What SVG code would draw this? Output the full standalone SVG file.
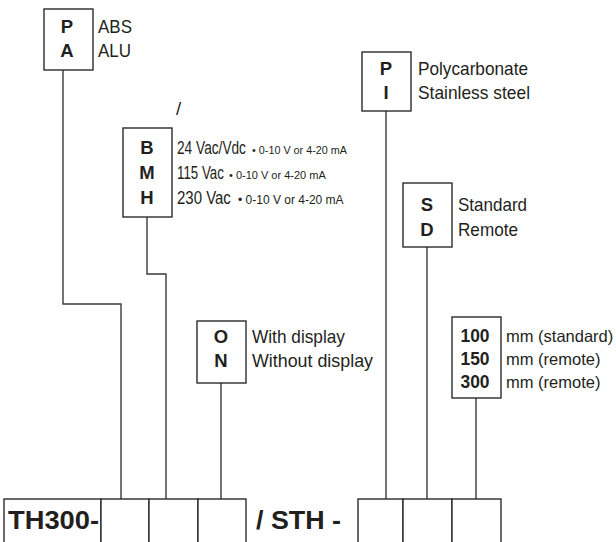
<svg xmlns="http://www.w3.org/2000/svg" width="616" height="542" viewBox="0 0 616 542">
<style>
.box{fill:#fff;stroke:#2b2b2b;stroke-width:1.4}
.ln{fill:none;stroke:#3a3a3a;stroke-width:1.4}
.t{font-family:"Liberation Sans",Arial,sans-serif;font-size:18.5px;fill:#231f20}
.m{font-family:"Liberation Sans",Arial,sans-serif;font-size:16.5px;fill:#231f20}
.b{font-family:"Liberation Sans",Arial,sans-serif;font-size:18.5px;font-weight:bold;fill:#231f20;text-anchor:middle}
.s{font-family:"Liberation Sans",Arial,sans-serif;fill:#231f20}
.big{font-family:"Liberation Sans",Arial,sans-serif;font-size:26px;font-weight:bold;fill:#231f20}
</style>
<rect width="616" height="542" fill="#fff"/>
<g id="connectors">
<polyline class="ln" points="63,70 63,304 121,304 121,499"/>
<polyline class="ln" points="147,217 147,274 166,274 166,499"/>
<polyline class="ln" points="221,383 221,499"/>
<polyline class="ln" points="386,111 386,499"/>
<polyline class="ln" points="427,247 427,499"/>
<polyline class="ln" points="476,398 476,499"/>
</g>
<g id="node-material">
<rect class="box" x="44" y="9" width="49" height="61"/>
<text class="b" x="67" y="33">P</text>
<text class="b" x="67" y="57">A</text>
<text class="t" x="98" y="33" textLength="34" lengthAdjust="spacingAndGlyphs">ABS</text>
<text class="t" x="98" y="57" textLength="33" lengthAdjust="spacingAndGlyphs">ALU</text>
</g>
<g id="node-slash">
<text class="t" x="176" y="115">/</text>
</g>
<g id="node-supply">
<rect class="box" x="123" y="128" width="49" height="89"/>
<text class="b" x="147" y="154">B</text>
<text class="b" x="147" y="179">M</text>
<text class="b" x="147" y="204">H</text>
<text class="t" transform="translate(177 154) scale(0.74 1)">24 Vac/Vdc</text>
<text class="s" x="252" y="154" font-size="10.8">• 0-10 V or 4-20 mA</text>
<text class="t" transform="translate(177 179) scale(0.72 1)">115 Vac</text>
<text class="s" x="229" y="179" font-size="11">• 0-10 V or 4-20 mA</text>
<text class="t" transform="translate(177 204) scale(0.81 1)">230 Vac</text>
<text class="s" x="238" y="204" font-size="12">• 0-10 V or 4-20 mA</text>
</g>
<g id="node-display">
<rect class="box" x="197" y="321" width="49" height="62"/>
<text class="b" x="221" y="343">O</text>
<text class="b" x="221" y="367">N</text>
<text class="t" x="252" y="343" textLength="93" lengthAdjust="spacingAndGlyphs">With display</text>
<text class="t" x="252" y="367" textLength="121" lengthAdjust="spacingAndGlyphs">Without display</text>
</g>
<g id="node-probe-material">
<rect class="box" x="362" y="52" width="49" height="59"/>
<text class="b" x="386" y="75">P</text>
<text class="b" x="386" y="99">I</text>
<text class="t" x="418" y="75" textLength="110" lengthAdjust="spacingAndGlyphs">Polycarbonate</text>
<text class="t" x="418" y="99" textLength="112" lengthAdjust="spacingAndGlyphs">Stainless steel</text>
</g>
<g id="node-probe-type">
<rect class="box" x="403" y="183" width="49" height="64"/>
<text class="b" x="427" y="211">S</text>
<text class="b" x="427" y="236">D</text>
<text class="t" x="458" y="211" textLength="69" lengthAdjust="spacingAndGlyphs">Standard</text>
<text class="t" x="458" y="236" textLength="60" lengthAdjust="spacingAndGlyphs">Remote</text>
</g>
<g id="node-length">
<rect class="box" x="452" y="317" width="49" height="81"/>
<text class="b" x="475" y="342" textLength="29" lengthAdjust="spacingAndGlyphs">100</text>
<text class="b" x="475" y="365" textLength="29" lengthAdjust="spacingAndGlyphs">150</text>
<text class="b" x="475" y="388" textLength="29" lengthAdjust="spacingAndGlyphs">300</text>
<text class="m" x="506" y="342">mm (standard)</text>
<text class="m" x="506" y="365">mm (remote)</text>
<text class="m" x="506" y="388">mm (remote)</text>
</g>
<g id="node-code">
<rect class="box" x="4" y="499" width="97" height="50"/>
<rect class="box" x="101" y="499" width="48" height="50"/>
<rect class="box" x="149" y="499" width="49" height="50"/>
<rect class="box" x="198" y="499" width="48" height="50"/>
<text class="big" x="8" y="529" textLength="91" lengthAdjust="spacingAndGlyphs">TH300-</text>
<text class="big" x="256" y="529" textLength="85" lengthAdjust="spacingAndGlyphs">/ STH -</text>
<rect class="box" x="358" y="499" width="45" height="50"/>
<rect class="box" x="403" y="499" width="49" height="50"/>
<rect class="box" x="452" y="499" width="49" height="50"/>
</g>
</svg>
